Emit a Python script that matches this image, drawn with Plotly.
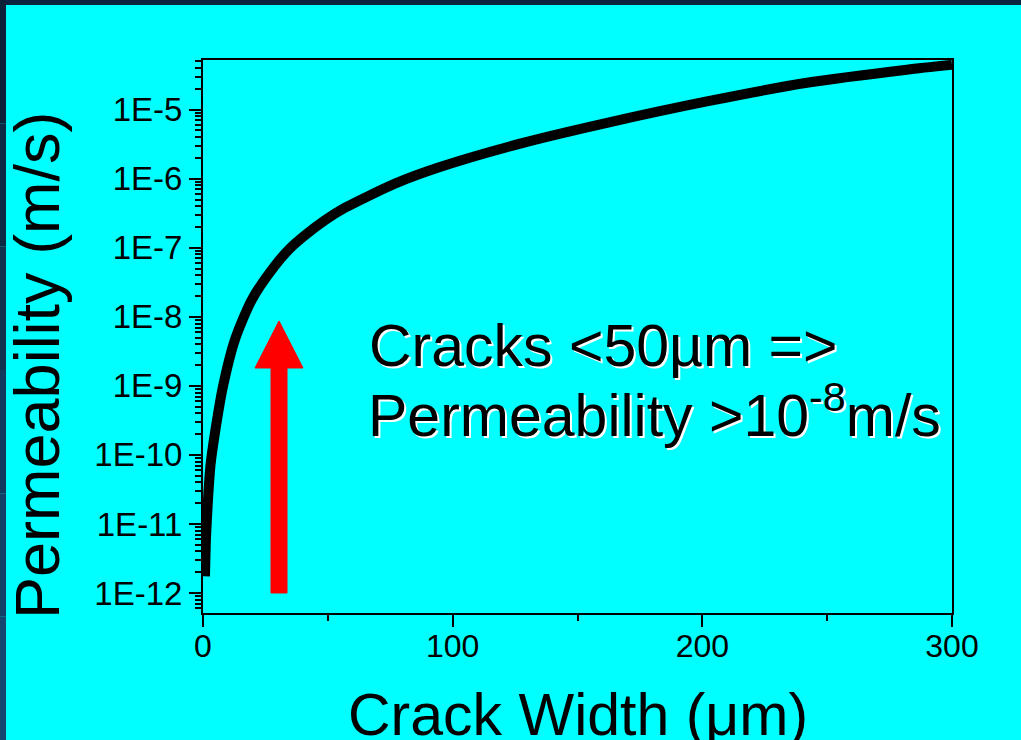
import plotly.graph_objects as go

# ---- data ----
crack_width_um = [0.8, 1.2, 2.0, 3.0, 4.8, 8.0, 12.8, 19.6, 28.8, 34.8, 40.8, 48.9,
                  56.9, 76.9, 94.9, 128.2, 161.8, 201.8, 241.9, 281.9, 300.0]
log_permeability = [-11.76, -11.2, -10.65, -10.15, -9.68, -9.01, -8.33, -7.75, -7.26,
                    -7.01, -6.82, -6.6, -6.42, -6.07, -5.83, -5.48, -5.19, -4.88,
                    -4.61, -4.42, -4.35]
permeability = [10 ** v for v in log_permeability]

y_tick_vals = [1e-12, 1e-11, 1e-10, 1e-9, 1e-8, 1e-7, 1e-6, 1e-5]
y_tick_text = ["1E-12", "1E-11", "1E-10", "1E-9", "1E-8", "1E-7", "1E-6", "1E-5"]
x_tick_vals = [0, 100, 200, 300]
x_minor_vals = [50, 150, 250]

W, H = 1021, 740
L, R, T, B = 203, 69, 60, 127
PW, PH = W - L - R, H - T - B

def px(x):
    return (x - L) / PW

def py(y):
    return (H - B - y) / PH

y_minor_vals = []
for e in range(-13, -4):
    for m in range(2, 10):
        y_minor_vals.append(m * 10 ** e)

FONT = "Arial, Liberation Sans, sans-serif"

fig = go.Figure()
fig.add_trace(go.Scatter(
    x=crack_width_um, y=permeability, mode="lines",
    line=dict(color="black", width=10, shape="spline", smoothing=0.7),
    showlegend=False, hoverinfo="skip"))

shapes = []
# slide background strips
shapes.append(dict(type="rect", xref="paper", yref="paper",
                   x0=px(0), x1=px(W), y0=py(5), y1=py(0),
                   fillcolor="#0c2440", line_width=0, layer="below"))
strip_cols = ["#0b2238", "#0d2a45", "#10324f", "#123a5c", "#134066", "#154670"]
n = len(strip_cols)
for i, c in enumerate(strip_cols):
    shapes.append(dict(type="rect", xref="paper", yref="paper",
                       x0=px(0), x1=px(6), y0=py(H * (i + 1) / n), y1=py(H * i / n),
                       fillcolor=c, line_width=0, layer="below"))

# red arrow
arrow_pts = [(271, 593), (287, 593), (287, 368), (303, 368), (279, 321),
             (255, 368), (271, 368)]
path = "M " + " L ".join(f"{px(a):.5f},{py(b):.5f}" for a, b in arrow_pts) + " Z"
shapes.append(dict(type="path", xref="paper", yref="paper", path=path,
                   fillcolor="#ff0000", line=dict(color="#ff0000", width=1)))

annotations = [
    dict(text="Cracks &lt;50µm =&gt;", xref="paper", yref="paper",
         x=px(367), y=py(346), xanchor="left", yanchor="middle", showarrow=False,
         font=dict(family=FONT, size=59, color="black", shadow="2px 2px 0px white")),
    dict(text="Permeability &gt;10<sup>-8</sup>m/s", xref="paper", yref="paper",
         x=px(366), y=py(411), xanchor="left", yanchor="middle", showarrow=False,
         font=dict(family=FONT, size=59, color="black", shadow="2px 2px 0px white")),
    dict(text="Crack Width (μm)", xref="paper", yref="paper",
         x=0.5, y=py(715), xanchor="center", yanchor="middle", showarrow=False,
         font=dict(family=FONT, size=59, color="black")),
    dict(text="Permeability (m/s)", xref="paper", yref="paper", textangle=-90,
         x=px(37), y=py(365), xanchor="center", yanchor="middle", showarrow=False,
         font=dict(family=FONT, size=63, color="black")),
]

fig.update_layout(
    width=W, height=H, autosize=False,
    margin=dict(l=L, r=R, t=T, b=B, pad=0),
    paper_bgcolor="#00ffff", plot_bgcolor="#00ffff",
    shapes=shapes, annotations=annotations,
    font=dict(family=FONT, color="black"),
)
fig.update_xaxes(
    range=[0, 300], showgrid=False, zeroline=False,
    showline=True, linecolor="black", linewidth=2, mirror=True,
    tickvals=x_tick_vals, ticks="outside", ticklen=12, tickwidth=2, tickcolor="black",
    ticklabelstandoff=-8,
    tickfont=dict(family=FONT, size=32, color="black"),
    minor=dict(tickvals=x_minor_vals, ticks="outside", ticklen=6, tickwidth=2,
               tickcolor="black", showgrid=False),
)
fig.update_yaxes(
    type="log", range=[-12.29, -4.28], showgrid=False, zeroline=False,
    showline=True, linecolor="black", linewidth=2, mirror=True,
    tickvals=y_tick_vals, ticktext=y_tick_text, ticks="outside", ticklen=12,
    tickwidth=2, tickcolor="black",
    tickfont=dict(family=FONT, size=33, color="black"),
    minor=dict(tickvals=y_minor_vals, ticks="outside", ticklen=6, tickwidth=2,
               tickcolor="black", showgrid=False),
)

fig.write_html("out.html")
